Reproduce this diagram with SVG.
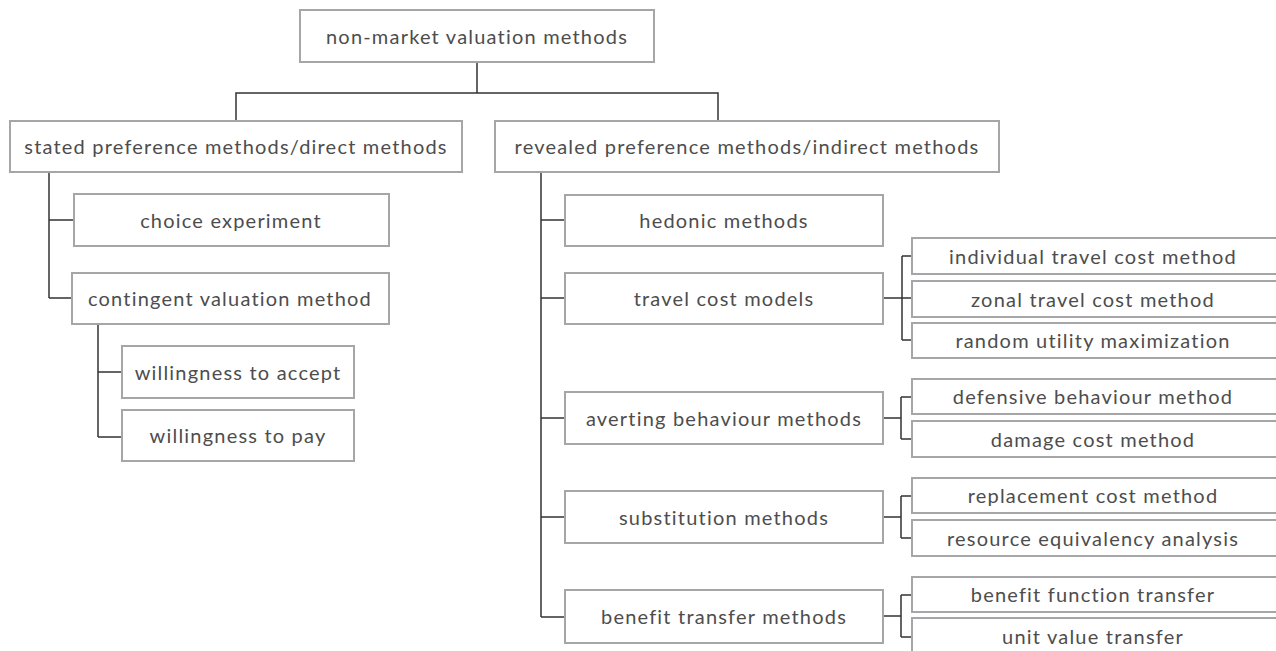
<svg xmlns="http://www.w3.org/2000/svg" width="1276" height="651" viewBox="0 0 1276 651">
<style>
.box{fill:#fff;stroke:#a6a6a8;stroke-width:2}
.lbl{font-family:Lato,"Liberation Sans",sans-serif;font-size:20px;fill:#4d4d4d;text-anchor:middle;dominant-baseline:central;letter-spacing:1.2px}
.con{fill:none;stroke:#333;stroke-width:1.5}
</style>
<rect width="1276" height="651" fill="#fff"/>
<g id="connectors" class="con">
<path d="M477 62V93M236 121V93H718V121"/>
<path d="M49 172V298M49 220H74M49 298H72"/>
<path d="M98 324V437M98 372H122M98 437H122"/>
<path d="M541 172V617M541 220H565M541 298H565M541 418H565M541 517H565M541 617H565"/>
<path d="M883 298H912M902 256V340M902 256H912M902 340H912"/>
<path d="M883 418H901M901 397V439M901 397H912M901 439H912"/>
<path d="M883 517H901M901 496V538M901 496H912M901 538H912"/>
<path d="M883 616H901M901 595V637M901 595H912M901 637H912"/>
</g>
<g id="n-root"><rect class="box" x="300" y="10" width="354" height="52"/><text class="lbl" x="477" y="36">non-market valuation methods</text></g>
<g id="n-stated"><rect class="box" x="10" y="121" width="452" height="51"/><text class="lbl" x="236" y="146">stated preference methods/direct methods</text></g>
<g id="n-revealed"><rect class="box" x="495" y="121" width="504" height="51"/><text class="lbl" x="747" y="146">revealed preference methods/indirect methods</text></g>
<g id="n-choice"><rect class="box" x="74" y="194" width="315" height="52"/><text class="lbl" x="231" y="220">choice experiment</text></g>
<g id="n-contingent"><rect class="box" x="72" y="273" width="317" height="51"/><text class="lbl" x="230" y="298">contingent valuation method</text></g>
<g id="n-wta"><rect class="box" x="122" y="346" width="232" height="52"/><text class="lbl" x="238" y="372">willingness to accept</text></g>
<g id="n-wtp"><rect class="box" x="122" y="410" width="232" height="51"/><text class="lbl" x="238" y="435">willingness to pay</text></g>
<g id="n-hedonic"><rect class="box" x="565" y="195" width="318" height="51"/><text class="lbl" x="724" y="220">hedonic methods</text></g>
<g id="n-travel"><rect class="box" x="565" y="273" width="318" height="51"/><text class="lbl" x="724" y="298">travel cost models</text></g>
<g id="n-averting"><rect class="box" x="565" y="392" width="318" height="52"/><text class="lbl" x="724" y="418">averting behaviour methods</text></g>
<g id="n-substitution"><rect class="box" x="565" y="491" width="318" height="52"/><text class="lbl" x="724" y="517">substitution methods</text></g>
<g id="n-benefit"><rect class="box" x="565" y="590" width="318" height="53"/><text class="lbl" x="724" y="616">benefit transfer methods</text></g>
<g id="n-individual"><rect class="box" x="912" y="238" width="370" height="36"/><text class="lbl" x="1093" y="256">individual travel cost method</text></g>
<g id="n-zonal"><rect class="box" x="912" y="281" width="370" height="36"/><text class="lbl" x="1093" y="299">zonal travel cost method</text></g>
<g id="n-random"><rect class="box" x="912" y="323" width="370" height="35"/><text class="lbl" x="1093" y="340">random utility maximization</text></g>
<g id="n-defensive"><rect class="box" x="912" y="379" width="370" height="35"/><text class="lbl" x="1093" y="396">defensive behaviour method</text></g>
<g id="n-damage"><rect class="box" x="912" y="421" width="370" height="36"/><text class="lbl" x="1093" y="439">damage cost method</text></g>
<g id="n-replacement"><rect class="box" x="912" y="478" width="370" height="35"/><text class="lbl" x="1093" y="495">replacement cost method</text></g>
<g id="n-resource"><rect class="box" x="912" y="520" width="370" height="36"/><text class="lbl" x="1093" y="538">resource equivalency analysis</text></g>
<g id="n-bft"><rect class="box" x="912" y="577" width="370" height="35"/><text class="lbl" x="1093" y="594">benefit function transfer</text></g>
<g id="n-uvt"><rect class="box" x="912" y="618" width="370" height="40"/><text class="lbl" x="1093" y="636">unit value transfer</text></g>
</svg>
